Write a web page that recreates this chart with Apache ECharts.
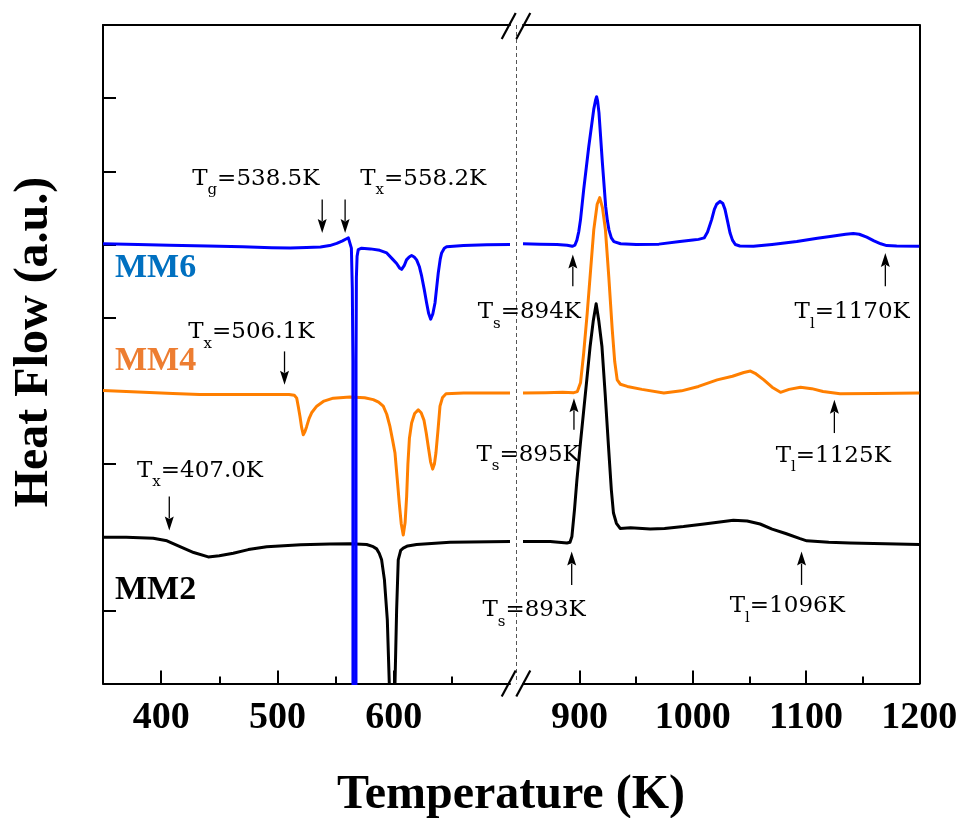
<!DOCTYPE html>
<html>
<head>
<meta charset="utf-8">
<script src="https://cdn.jsdelivr.net/npm/echarts@6/dist/echarts.min.js"></script>
<style>
html,body{margin:0;padding:0;background:#fff}
#chart{width:964px;height:818px}
</style>
</head>
<body>
<div id="chart"></div>
<script>
// DSC traces: [temperature (K), heat flow (offset, a.u.)], split at the axis break
const mm6Low = [[350,6.01],[380,6.0],[407,5.99],[440,5.98],[470,5.968],[495,5.955],[511,5.952],[525,5.958],[537,5.967],[545,5.985],[551,6.015],[556,6.05],[559,6.075],[561,6.09],[562.6,6.07],[563.6,5.95],[564.4,5.4],[564.9,4.4],[565.1,-12],[567.4,-12],[567.6,4.4],[567.9,5.55],[568.5,5.84],[569.5,5.93],[572.4,5.95],[580,5.94],[588,5.92],[594,5.885],[599,5.8],[602.5,5.74],[605,5.68],[606.8,5.66],[609,5.71],[611,5.79],[613.3,5.83],[615.4,5.85],[617.6,5.83],[619.7,5.79],[622,5.7],[624,5.57],[626.2,5.39],[628.3,5.2],[630,5.06],[631.8,4.98],[633.6,5.05],[635.5,5.2],[637,5.42],[638.3,5.61],[640,5.8],[641.2,5.885],[643.5,5.95],[645.5,5.97],[660,5.985],[680,5.995],[700,6.0]];
const mm6High = [[850,6.01],[865,6.005],[880,6.0],[889,5.99],[893.5,5.975],[895.8,5.99],[897.6,6.06],[899.3,6.18],[900.8,6.34],[903.6,6.75],[908.1,7.34],[912.5,7.85],[914.2,7.98],[915,8.02],[915.9,7.96],[917.1,7.8],[920.1,7.12],[923,6.52],[924.5,6.33],[925.9,6.2],[928,6.09],[930.3,6.04],[936.2,6.01],[950,6.0],[970,6.005],[988.6,6.04],[1000,6.06],[1005,6.07],[1010,6.09],[1013,6.17],[1016.6,6.34],[1019,6.48],[1021,6.55],[1024,6.59],[1026.5,6.56],[1028.4,6.48],[1030.5,6.33],[1032.8,6.16],[1035,6.06],[1037.5,6.0],[1041.5,5.98],[1053.5,5.975],[1070,6.0],[1091.8,6.04],[1110,6.085],[1121.2,6.11],[1135,6.14],[1141.7,6.15],[1147,6.14],[1153.6,6.10],[1160,6.05],[1166,6.01],[1171.2,5.985],[1180,5.978],[1200,5.975]];

const mm4Low = [[350,4.005],[380,3.985],[410,3.965],[433,3.95],[480,3.95],[510,3.95],[514.5,3.94],[516.6,3.9],[518,3.78],[519.4,3.65],[520.8,3.5],[522.2,3.40],[523.6,3.44],[525.1,3.51],[527.2,3.62],[529.4,3.70],[533.8,3.79],[540,3.86],[548,3.90],[562.4,3.915],[575,3.905],[582.4,3.88],[587,3.845],[591,3.79],[594,3.68],[596.8,3.51],[599,3.33],[601.1,3.15],[603,2.8],[604.8,2.46],[606.5,2.18],[608.2,2.03],[609.8,2.2],[611.1,2.55],[612.2,3.0],[613.5,3.35],[615.4,3.56],[618,3.69],[621.1,3.74],[623.6,3.7],[626,3.6],[628,3.42],[629.7,3.24],[631.7,3.03],[633.5,2.93],[635,3.0],[636.3,3.15],[638,3.45],[639.8,3.79],[642,3.91],[645,3.96],[660,3.97],[700,3.97]];
const mm4High = [[850,3.97],[870,3.975],[885,3.98],[894.9,3.975],[898,3.99],[900.8,4.11],[903.5,4.5],[906.7,5.06],[909.6,5.63],[912.5,6.2],[915.5,6.55],[917.8,6.64],[920.2,6.5],[922.8,6.2],[925.8,5.55],[928.8,4.84],[931,4.4],[933.2,4.15],[936,4.09],[942.1,4.06],[955,4.02],[974.4,3.97],[990,4.0],[1005,4.06],[1021.5,4.15],[1035,4.2],[1045,4.25],[1050.9,4.27],[1055,4.24],[1062.7,4.15],[1070,4.05],[1077.4,3.98],[1085,4.02],[1095.1,4.05],[1105,4.03],[1115,3.99],[1130,3.96],[1160,3.965],[1200,3.97]];

const mm2Low = [[350,2.0],[370,2.0],[393.2,1.985],[405,1.95],[416.2,1.87],[428,1.79],[440.5,1.73],[450,1.745],[462,1.78],[475,1.83],[490.8,1.87],[520,1.895],[545,1.905],[562.4,1.91],[576.7,1.9],[582.4,1.87],[585.3,1.84],[587.5,1.78],[589.6,1.69],[592,1.42],[594.5,0.87],[596.2,0],[597,-2.5],[600.3,-2.5],[601.1,0],[602.5,1.0],[603.9,1.69],[606,1.82],[608.2,1.85],[612,1.88],[619.7,1.9],[648.4,1.93],[700,1.94]];
const mm2High = [[850,1.94],[874,1.94],[888.8,1.92],[891.5,1.93],[893.2,2.01],[895.5,2.38],[897.6,2.78],[900.5,3.25],[903.4,3.70],[906.4,4.16],[909.3,4.61],[912,4.95],[914.6,5.19],[917,4.95],[919.7,4.61],[922.6,3.95],[925.5,3.24],[928,2.65],[929.9,2.33],[932.5,2.19],[935.8,2.12],[945,2.13],[962.3,2.11],[975,2.12],[991.7,2.145],[1010,2.18],[1035.8,2.23],[1048,2.22],[1059.4,2.18],[1070,2.11],[1082,2.05],[1094.7,1.98],[1100.6,1.95],[1120,1.93],[1138.8,1.92],[1170,1.91],[1200,1.90]];

// Characteristic temperatures (glass transition, crystallisation, solidus, liquidus)
const lowSubs = ['g','x','x','x'];
const lowTemps = [538.5, 558.2, 506.1, 407.0];
const lowArrowY = [[6.614,6.158],[6.614,6.158],[4.539,4.083],[2.555,2.09]];   // [tail, tip]
const lowLabelAt = [[481.4,6.806],[625.4,6.806],[477.5,4.709],[433.4,2.821]];

const highSubs = ['s','l','s','l','s','l'];
const highTemps = [894, 1170, 895, 1125, 893, 1096];
const highArrowY = [[5.428,5.862],[5.428,5.885],[3.468,3.90],[3.423,3.878],[1.347,1.803],[1.347,1.803]];
const highLabelAt = [[855.6,4.986],[1140.7,4.986],[854.5,3.034],[1124.0,3.021],[859.8,0.914],[1083.4,0.964]];

// Sample names
const tagNames = ['MM6','MM4','MM2'];
const tagAt = [[360.3,5.67],[360.3,4.40],[360.3,1.28]];

// Axis ranges and ticks
const lowRange = [350, 700], highRange = [850, 1200];
const lowMajor = [400, 500, 600], lowMinor = [450, 550, 650];
const highMajor = [900, 1000, 1100, 1200], highMinor = [950, 1050, 1150];

const SERIF = '"DejaVu Serif", serif';
const TIMES = '"Liberation Serif", "Times New Roman", serif';
const BLUE = '#0000ff', ORANGE = '#ff7f00', BLACK = '#000000';
const tagColors = ['#0070c0', '#ed7d31', '#000000'];

const TOP = 25, BOTTOM_Y = 683.5, H = BOTTOM_Y - TOP;
const L_LEFT = 103, L_RIGHT = 510, R_LEFT = 523, R_RIGHT = 919.3;

const lineStyleAxis = {color: '#000', width: 2};

function majorAxis(grid, range, ticks) {
  return {
    type: 'value', gridIndex: grid, min: range[0], max: range[1], position: 'bottom',
    axisLine: {show: true, onZero: false, lineStyle: lineStyleAxis},
    axisTick: {show: true, inside: true, length: 13, customValues: ticks, lineStyle: {color: '#000', width: 2}},
    axisLabel: {show: true, customValues: ticks, showMinLabel: true, showMaxLabel: true,
      formatter: v => String(v),
      fontSize: 38, fontWeight: 'bold', fontFamily: TIMES, color: '#000', margin: 16},
    splitLine: {show: false}
  };
}
function topAxis(grid, range) {
  return {
    type: 'value', gridIndex: grid, min: range[0], max: range[1], position: 'top',
    axisLine: {show: true, onZero: false, lineStyle: lineStyleAxis},
    axisTick: {show: false}, axisLabel: {show: false}, splitLine: {show: false}
  };
}
function minorAxis(grid, range, ticks) {
  return {
    type: 'value', gridIndex: grid, min: range[0], max: range[1], position: 'bottom',
    axisLine: {show: false, onZero: false},
    axisTick: {show: true, inside: true, length: 7, customValues: ticks, lineStyle: {color: '#000', width: 2}},
    axisLabel: {show: false}, splitLine: {show: false}
  };
}

function traceSeries(name, data, color, xi, yi, z) {
  return {
    name, type: 'line', data, xAxisIndex: xi, yAxisIndex: yi, z,
    showSymbol: false, symbol: 'none', smooth: false, clip: true, silent: true,
    lineStyle: {color, width: 3, join: 'round'}
  };
}

function arrowSeries(xi, yi, temps, ys) {
  return {
    type: 'custom', xAxisIndex: xi, yAxisIndex: yi, z: 6, silent: true,
    data: temps.map((t, i) => [t, ys[i][0], ys[i][1]]),
    encode: {x: 0, y: [1, 2]},
    renderItem(params, api) {
      const tail = api.coord([api.value(0), api.value(1)]);
      const tip = api.coord([api.value(0), api.value(2)]);
      const dir = tip[1] > tail[1] ? 1 : -1;
      const headLen = 14, half = 4.5;
      const base = tip[1] - dir * headLen;
      return {
        type: 'group',
        children: [
          {type: 'line', shape: {x1: tail[0], y1: tail[1], x2: tip[0], y2: base + dir * 2},
           style: {stroke: '#000', lineWidth: 1.3}},
          {type: 'polygon', shape: {points: [[tip[0], tip[1]], [tip[0] - half, base], [tip[0], base + dir * 2.5], [tip[0] + half, base]]},
           style: {fill: '#000'}}
        ]
      };
    }
  };
}

const noteRich = {
  m: {fontFamily: SERIF, fontSize: 23, lineHeight: 23, verticalAlign: 'top', color: '#111'},
  s: {fontFamily: SERIF, fontSize: 15, lineHeight: 46, verticalAlign: 'middle', color: '#111'}
};

function noteSeries(xi, yi, anchors, subs, temps, digits) {
  return {
    type: 'custom', xAxisIndex: xi, yAxisIndex: yi, z: 6, silent: true,
    data: anchors,
    renderItem(params, api) {
      const p = api.coord([api.value(0), api.value(1)]);
      const i = params.dataIndex;
      return {
        type: 'text', x: p[0], y: p[1] - 18,
        style: {
          text: '{m|T}{s|' + subs[i] + '}{m|=' + temps[i].toFixed(digits) + 'K}',
          rich: noteRich, align: 'center', verticalAlign: 'top'
        }
      };
    }
  };
}

function tagSeries() {
  return {
    type: 'custom', xAxisIndex: 0, yAxisIndex: 0, z: 6, silent: true,
    data: tagAt,
    renderItem(params, api) {
      const p = api.coord([api.value(0), api.value(1)]);
      const i = params.dataIndex;
      return {
        type: 'text', x: p[0], y: p[1],
        style: {text: tagNames[i], font: 'bold 34px ' + TIMES, fill: tagColors[i], align: 'left', verticalAlign: 'middle'}
      };
    }
  };
}

const breakX = (L_RIGHT + R_LEFT) / 2;
const slashes = [];
[L_RIGHT - 1.3, R_LEFT + 0.3].forEach(cx => {
  [TOP + 1, BOTTOM_Y].forEach(cy => {
    slashes.push({type: 'line', z: 100,
      shape: {x1: cx - 7, y1: cy + 13, x2: cx + 7, y2: cy - 13},
      style: {stroke: '#000', lineWidth: 2.2}});
  });
});

const chart = echarts.init(document.getElementById('chart'), null, {renderer: 'canvas'});
chart.setOption({
  animation: false,
  backgroundColor: '#fff',
  grid: [
    {left: L_LEFT, top: TOP, width: L_RIGHT - L_LEFT, height: H},
    {left: L_LEFT, top: TOP, width: L_RIGHT - L_LEFT, height: H},
    {left: R_LEFT, top: TOP, width: R_RIGHT - R_LEFT, height: H},
    {left: R_LEFT, top: TOP, width: R_RIGHT - R_LEFT, height: H}
  ],
  xAxis: [
    majorAxis(0, lowRange, lowMajor),
    topAxis(0, lowRange),
    minorAxis(1, lowRange, lowMinor),
    majorAxis(2, highRange, highMajor),
    topAxis(2, highRange),
    minorAxis(3, highRange, highMinor)
  ],
  yAxis: [
    {type: 'value', gridIndex: 0, min: 0, max: 9, interval: 1, position: 'left',
     axisLine: {show: true, onZero: false, lineStyle: lineStyleAxis},
     axisTick: {show: true, inside: true, length: 13, lineStyle: {color: '#000', width: 2}},
     axisLabel: {show: false}, splitLine: {show: false}},
    {type: 'value', gridIndex: 1, min: 0, max: 9, show: false},
    {type: 'value', gridIndex: 2, min: 0, max: 9, interval: 1, position: 'right',
     axisLine: {show: true, onZero: false, lineStyle: lineStyleAxis},
     axisTick: {show: false}, axisLabel: {show: false}, splitLine: {show: false}},
    {type: 'value', gridIndex: 3, min: 0, max: 9, show: false}
  ],
  series: [
    traceSeries('MM4', mm4Low, ORANGE, 0, 0, 2),
    traceSeries('MM4', mm4High, ORANGE, 3, 2, 2),
    traceSeries('MM2', mm2Low, BLACK, 0, 0, 3),
    traceSeries('MM2', mm2High, BLACK, 3, 2, 3),
    traceSeries('MM6', mm6Low, BLUE, 0, 0, 4),
    traceSeries('MM6', mm6High, BLUE, 3, 2, 4),
    arrowSeries(0, 0, lowTemps, lowArrowY),
    arrowSeries(3, 2, highTemps, highArrowY),
    noteSeries(0, 0, lowLabelAt, lowSubs, lowTemps, 1),
    noteSeries(3, 2, highLabelAt, highSubs, highTemps, 0),
    tagSeries()
  ],
  graphic: [
    {type: 'line', z: 1, silent: true,
     shape: {x1: breakX, y1: TOP, x2: breakX, y2: BOTTOM_Y},
     style: {stroke: '#555', lineWidth: 1, lineDash: [4, 3]}},
    ...slashes,
    {type: 'text', x: 511, y: 796, silent: true,
     style: {text: 'Temperature (K)', font: 'bold 48px ' + TIMES, fill: '#000',
             align: 'center', verticalAlign: 'middle', textAlign: 'center', textVerticalAlign: 'middle'}},
    {type: 'text', x: 35, y: 342, rotation: Math.PI / 2, silent: true,
     style: {text: 'Heat Flow (a.u.)', font: 'bold 48px ' + TIMES, fill: '#000',
             align: 'center', verticalAlign: 'middle', textAlign: 'center', textVerticalAlign: 'middle'}}
  ]
});
</script>
</body>
</html>
